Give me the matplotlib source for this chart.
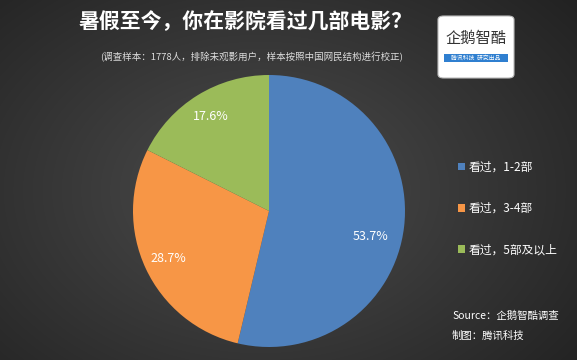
import numpy as np
import matplotlib
matplotlib.use("Agg")
import matplotlib.pyplot as plt
from matplotlib.patches import FancyBboxPatch, Rectangle

plt.rcParams['font.family'] = ['Noto Sans CJK SC', 'DejaVu Sans']

# -----------------------------------------------------------
# DATA
# -----------------------------------------------------------
title = "暑假至今，你在影院看过几部电影？"
subtitle = "(调查样本：1778人，排除未观影用户，样本按照中国网民结构进行校正)"
labels = ["看过，1-2部", "看过，3-4部", "看过，5部及以上"]
shares = [53.7, 28.7, 17.6]
colors = ["#4f81bd", "#f79646", "#9bbb59"]

W, H = 577, 360
fig = plt.figure(figsize=(W / 100, H / 100), dpi=100)

# background: dark radial gradient
bg = fig.add_axes([0, 0, 1, 1])
yy, xx = np.mgrid[0:H, 0:W]
d = np.sqrt(((xx - 260) / 420.0) ** 2 + ((yy - 190) / 300.0) ** 2)
shade = np.clip(0.30 - 0.17 * d, 0.12, 0.30)
bg.imshow(np.dstack([shade] * 3), extent=[0, W, 0, H], origin="upper", aspect="auto")
bg.axis("off")

# pie in pixel coords (y up)
ax = fig.add_axes([0, 0, 1, 1], facecolor="none")
wedges, texts, autotexts = ax.pie(
    shares, colors=colors, startangle=90, counterclock=False,
    center=(269, H - 211), radius=136, frame=True,
    autopct="%.1f%%", pctdistance=0.82,
    textprops={"color": "white", "fontsize": 9},
    wedgeprops={"linewidth": 0},
)
ax.set_xlim(0, W)
ax.set_ylim(0, H)
ax.set_aspect("equal")
ax.axis("off")
autotexts[0].set_position((371, H - 236))

# titles
fig.text(246 / W, 1 - 22 / H, title, ha="center", va="center",
         color="white", fontsize=15, fontweight="bold")
fig.text(252 / W, 1 - 57 / H, subtitle, ha="center", va="center",
         color="#dddddd", fontsize=6.8)

# legend
leg = ax.legend(wedges, labels, loc="upper left", bbox_to_anchor=(447 / W, 1 - 150 / H),
                bbox_transform=fig.transFigure, frameon=False, labelcolor="white",
                fontsize=8.5, handlelength=0.6, handleheight=0.6, handletextpad=0.3,
                labelspacing=2.4)

# source lines
fig.text(452 / W, 1 - 316 / H, "Source：企鹅智酷调查", color="white",
         fontsize=7.5, style="italic", va="center")
fig.text(452 / W, 1 - 336 / H, "制图：腾讯科技", color="white",
         fontsize=7.5, style="italic", va="center")

# logo box
lx0, ly0, lw, lh = 438, 16, 76, 62
fig.patches.append(FancyBboxPatch((lx0 / W, 1 - (ly0 + lh) / H), lw / W, lh / H,
                                  boxstyle="round,pad=0,rounding_size=0.01",
                                  transform=fig.transFigure, facecolor="white",
                                  edgecolor="#bbbbbb", linewidth=0.8))
fig.text((lx0 + lw / 2) / W, 1 - 38 / H, "企鹅智酷", ha="center", va="center",
         color="#333333", fontsize=11)
fig.patches.append(Rectangle(((lx0 + 6) / W, 1 - 62 / H), (lw - 12) / W, 8 / H,
                             transform=fig.transFigure, facecolor="#2f7fd0",
                             edgecolor="none"))
fig.text((lx0 + lw / 2) / W, 1 - 58 / H, "腾讯科技  研究出品", ha="center", va="center",
         color="white", fontsize=4.2, style="italic")

fig.savefig("out.png", dpi=100)
